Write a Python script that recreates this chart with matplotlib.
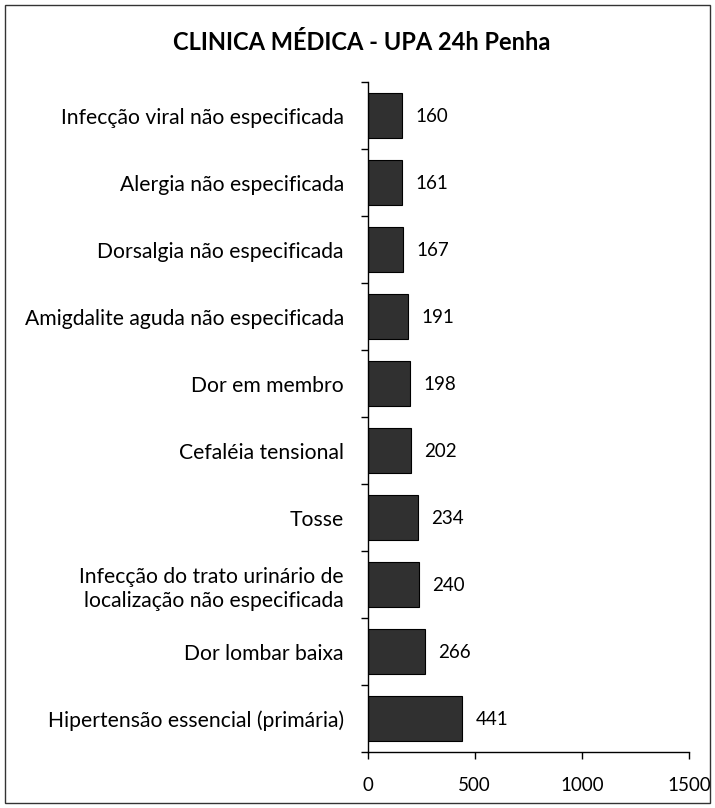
import matplotlib
matplotlib.use("Agg")
import matplotlib.pyplot as plt
from matplotlib.patches import Rectangle

categories = [
    "Hipertensão essencial (primária)",
    "Dor lombar baixa",
    "Infecção do trato urinário de\nlocalização não especificada",
    "Tosse",
    "Cefaléia tensional",
    "Dor em membro",
    "Amigdalite aguda não especificada",
    "Dorsalgia não especificada",
    "Alergia não especificada",
    "Infecção viral não especificada",
]
values = [441, 266, 240, 234, 202, 198, 191, 167, 161, 160]
xticks = [0, 500, 1000, 1500]
title = "CLINICA MÉDICA - UPA 24h Penha"

plt.rcParams['font.family'] = ['Lato', 'DejaVu Sans']

fig = plt.figure(figsize=(7.15, 8.08), dpi=100)
ax = fig.add_axes([0.514, 0.0693, 0.450, 0.8292])

pos = list(range(len(categories)))
ax.barh(pos, values, height=0.67, color='#303030', edgecolor='black', linewidth=0.8)
for p, v in zip(pos, values):
    ax.annotate(str(v), (v, p), xytext=(9.5, -1), textcoords='offset points',
                va='center', ha='left', fontsize=13.5, color='black')

ax.set_ylim(-0.5, len(categories) - 0.5)
ax.set_xlim(0, 1500)
ax.set_xticks(xticks)
ax.set_xticklabels([str(t) for t in xticks], fontsize=13.5)
ax.set_yticks(pos)
ax.set_yticklabels(categories, fontsize=15.2, linespacing=1.3)
ax.set_yticks([p - 0.5 for p in pos] + [len(categories) - 0.5], minor=True)
ax.tick_params(axis='y', which='major', length=0, pad=17)
ax.tick_params(axis='y', which='minor', length=5, direction='out', width=1)
ax.tick_params(axis='x', which='major', length=5, direction='out', pad=13, width=1)
for s in ['top', 'right']:
    ax.spines[s].set_visible(False)
ax.spines['left'].set_linewidth(1)
ax.spines['bottom'].set_linewidth(1)

fig.text(0.506, 0.947, title, ha='center', va='center', fontsize=17, fontweight='bold')

fig.patches.append(Rectangle((0.007, 0.006), 0.986, 0.988, transform=fig.transFigure,
                             fill=False, edgecolor='#333333', linewidth=1))

fig.savefig('out.png', dpi=100)
